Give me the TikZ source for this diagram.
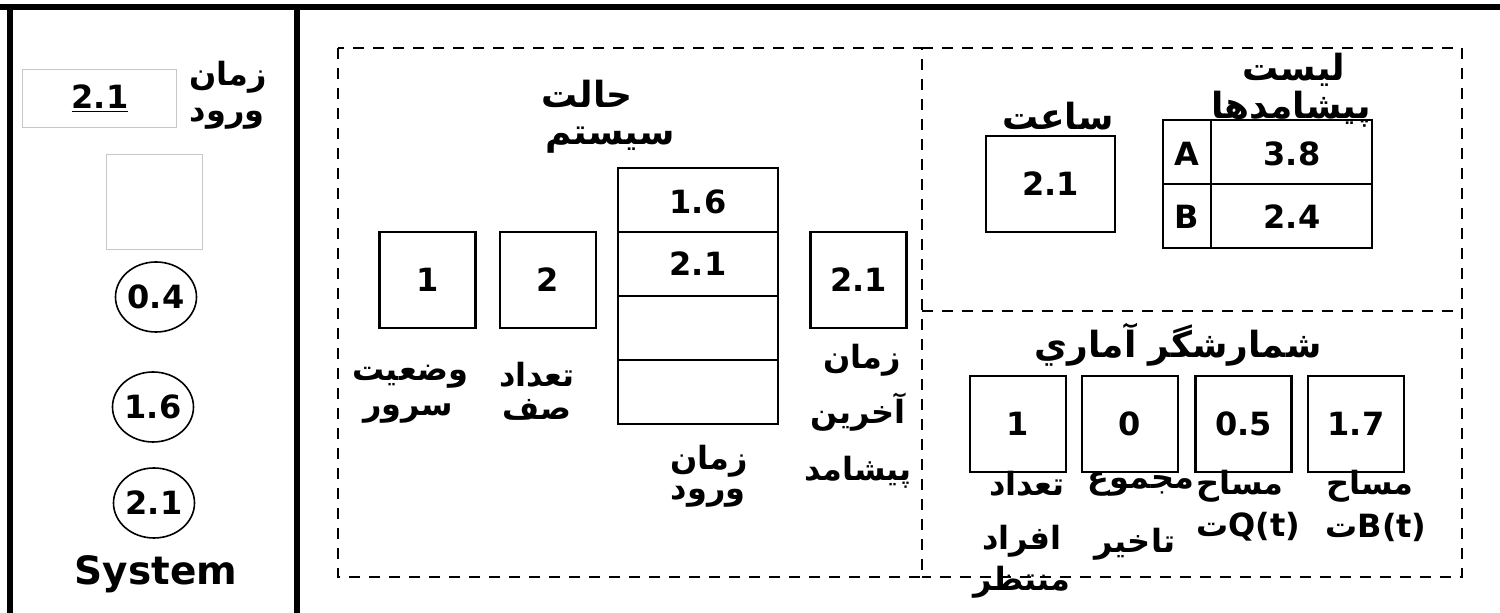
\documentclass[tikz,border=0pt]{standalone}
\usepackage{fontspec}
\usetikzlibrary{shapes.geometric}
\setmainfont{DejaVu Sans Bold}
\newfontfamily\arfont[Script=Arabic]{DejaVu Sans Bold}
\TeXXeTstate=1
\newcommand\AR[1]{{\arfont\beginR #1\endR}}
\begin{document}
\begin{tikzpicture}[x=0.5pt,y=-0.5pt,
  frame/.style={line width=2.6pt},
  cell/.style={draw,line width=1.3pt},
  faint/.style={draw=black!22,line width=0.5pt},
  dashline/.style={line width=1.2pt,dash pattern=on 5.5pt off 4.5pt},
  num/.style={font=\fontsize{16}{18}\selectfont,inner sep=0pt},
  lab/.style={font=\fontsize{16}{18}\selectfont,inner sep=0pt},
  ttl/.style={font=\fontsize{18}{20}\selectfont,inner sep=0pt},
  sq/.style={cell,num,minimum width=48pt,minimum height=48pt},
  oval/.style={draw,ellipse,line width=0.8pt,minimum width=40.5pt,minimum height=35pt,inner sep=0pt,font=\fontsize{16}{18}\selectfont}]
\useasboundingbox (0,0) rectangle (1500,613);
% outer frame
\coordinate (tl) at (0,7);
\coordinate (tr) at (1500,7);
\coordinate (l1) at (10,7);
\coordinate (l2) at (10,613);
\coordinate (d1) at (297,7);
\coordinate (d2) at (297,613);
\draw[frame] (tl) -- (tr);
\draw[frame] (l1) -- (l2);
\draw[frame] (d1) -- (d2);
% left panel
\draw[faint] (22,70) rectangle (176,128);
\node[num] (arr) at (100,99) {\underline{2.1}};
\node[lab] (arrA) at (228,77) {\AR{زمان}};
\node[lab] (arrB) at (227,119) {\AR{ورود}};
\draw[faint] (106,155) rectangle (202,250);
\node[oval] (e1) at (156,297) {0.4};
\node[oval] (e2) at (153,407) {1.6};
\node[oval] (e3) at (154,503) {2.1};
\node[font=\fontsize{19.5}{22}\selectfont,inner sep=0pt] (sys) at (156,574) {System};
% system state box
\draw[dashline] (338,48) rectangle (922,577);
\node[ttl] (ssA) at (587,94) {\AR{حالت}};
\node[ttl] (ssB) at (610,140) {\AR{سیستم}};
\draw[cell] (618,168) rectangle (778,424);
\draw[cell] (618,232) -- (778,232);
\draw[cell] (618,296) -- (778,296);
\draw[cell] (618,360) -- (778,360);
\node[num] (q1) at (698,202) {1.6};
\node[num] (q2) at (698,264) {2.1};
\node[sq] (srv) at (427.5,280) {1};
\node[sq] (nq) at (548,280) {2};
\node[sq] (lt) at (858.5,280) {2.1};
\node[lab] (srvA) at (410,377) {\AR{وضعیت}};
\node[lab] (srvB) at (408,414) {\AR{سرور}};
\node[lab] (nqA) at (537,375) {\AR{تعداد}};
\node[lab] (nqB) at (537,410) {\AR{صف}};
\node[lab] (atA) at (709,461) {\AR{زمان}};
\node[lab] (atB) at (708,497) {\AR{ورود}};
\node[lab] (ltA) at (862,360) {\AR{زمان}};
\node[lab] (ltB) at (858,412) {\AR{آخرین}};
\node[lab] (ltC) at (858,472) {\AR{پیشامد}};
% clock & event list
\coordinate (r1) at (922,48);
\coordinate (r2) at (1462,48);
\coordinate (r3) at (1462,577);
\coordinate (r4) at (922,577);
\coordinate (m1) at (922,311);
\coordinate (m2) at (1462,311);
\draw[dashline] (r1) -- (r2) -- (r3) -- (r4);
\draw[dashline] (m1) -- (m2);
\node[ttl] (clk) at (1058,116) {\AR{ساعت}};
\node[cell,num,minimum width=64.5pt,minimum height=48pt] (clkv) at (1050.5,184) {2.1};
\draw[cell] (1163,120) rectangle (1372,248);
\draw[cell] (1163,184) -- (1372,184);
\draw[cell] (1211,120) -- (1211,248);
\node[num] (ea) at (1187,154) {A};
\node[num] (eav) at (1292,154) {3.8};
\node[num] (eb) at (1187,217) {B};
\node[num] (ebv) at (1292,217) {2.4};
\node[ttl] (elA) at (1294,70) {\AR{لیست}};
\node[ttl] (elB) at (1291,109) {\AR{پیشامدها}};
% statistical counters
\node[ttl] (stt) at (1178,345) {\AR{شمارشگر آماري}};
\node[sq] (c1) at (1018,424) {1};
\node[sq] (c2) at (1130,424) {0};
\node[sq] (c3) at (1243.5,424) {0.5};
\node[sq] (c4) at (1356,424) {1.7};
\node[lab] (c1A) at (1027,484) {\AR{تعداد}};
\node[lab] (c1B) at (1022,541) {\AR{افراد}};
\node[lab] (c1C) at (1022,582) {\AR{منتظر}};
\node[lab] (c2A) at (1141,484) {\AR{مجموع}};
\node[lab] (c2B) at (1135,544) {\AR{تاخیر}};
\node[lab] (c3A) at (1240,486) {\AR{مساح}};
\node[lab] (c3B) at (1248,527) {\AR{ت}Q(t)};
\node[lab] (c4A) at (1370,486) {\AR{مساح}};
\node[lab] (c4B) at (1376,527) {\AR{ت}B(t)};
\end{tikzpicture}
\end{document}
